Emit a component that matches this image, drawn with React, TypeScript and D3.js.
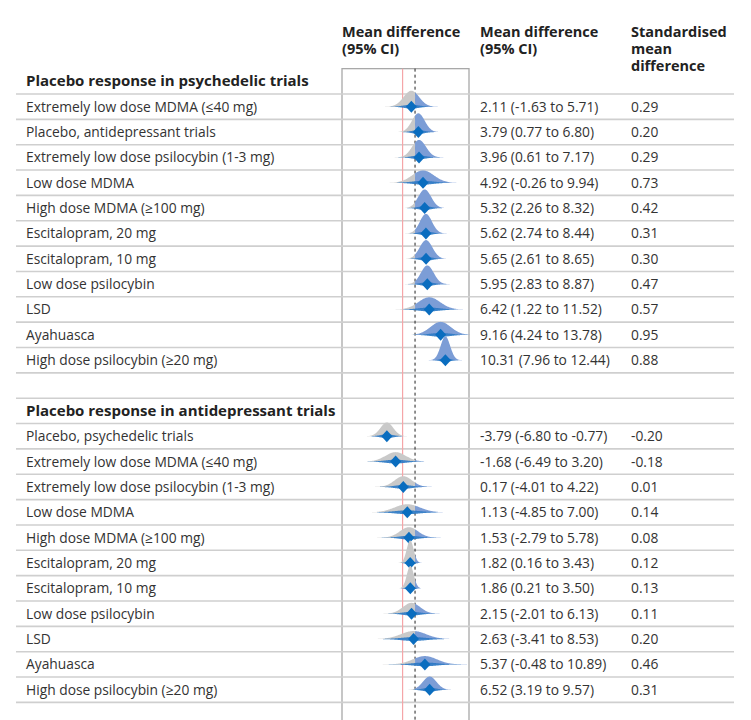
import React from "react";
import * as d3 from "d3";

// ---------- data ----------
const groupTitles = ["Placebo response in psychedelic trials", "Placebo response in antidepressant trials"];
const plotHeader = ["Mean difference", "(95% CI)"];
const mdHeader = ["Mean difference", "(95% CI)"];
const smdHeader = ["Standardised", "mean", "difference"];

const psyLabels = [
  "Extremely low dose MDMA (≤40 mg)",
  "Placebo, antidepressant trials",
  "Extremely low dose psilocybin (1-3 mg)",
  "Low dose MDMA",
  "High dose MDMA (≥100 mg)",
  "Escitalopram, 20 mg",
  "Escitalopram, 10 mg",
  "Low dose psilocybin",
  "LSD",
  "Ayahuasca",
  "High dose psilocybin (≥20 mg)",
];
const psyMean = [2.11, 3.79, 3.96, 4.92, 5.32, 5.62, 5.65, 5.95, 6.42, 9.16, 10.31];
const psyLow = [-1.63, 0.77, 0.61, -0.26, 2.26, 2.74, 2.61, 2.83, 1.22, 4.24, 7.96];
const psyHigh = [5.71, 6.8, 7.17, 9.94, 8.32, 8.44, 8.65, 8.87, 11.52, 13.78, 12.44];
const psySmd = ["0.29", "0.20", "0.29", "0.73", "0.42", "0.31", "0.30", "0.47", "0.57", "0.95", "0.88"];

const adLabels = [
  "Placebo, psychedelic trials",
  "Extremely low dose MDMA (≤40 mg)",
  "Extremely low dose psilocybin (1-3 mg)",
  "Low dose MDMA",
  "High dose MDMA (≥100 mg)",
  "Escitalopram, 20 mg",
  "Escitalopram, 10 mg",
  "Low dose psilocybin",
  "LSD",
  "Ayahuasca",
  "High dose psilocybin (≥20 mg)",
];
const adMean = [-3.79, -1.68, 0.17, 1.13, 1.53, 1.82, 1.86, 2.15, 2.63, 5.37, 6.52];
const adLow = [-6.8, -6.49, -4.01, -4.85, -2.79, 0.16, 0.21, -2.01, -3.41, -0.48, 3.19];
const adHigh = [-0.77, 3.2, 4.22, 7.0, 5.78, 3.43, 3.5, 6.13, 8.53, 10.89, 9.57];
const adSmd = ["-0.20", "-0.18", "0.01", "0.14", "0.08", "0.12", "0.13", "0.11", "0.20", "0.46", "0.31"];

const nullValue = 0;
const thresholdValue = 3;
const domainX = [-14.6, 16.0];

// ---------- layout ----------
const W = 751;
const H = 712;
const FONT = "'Open Sans', Lato, sans-serif";
const rowH = 25.35;
const top0 = 60.65; // top of first group header row (svg coordinates)
const boxL = 334, boxR = 461;
const lineL = 8, lineR = 726;
const colLabel = 18, colMD = 472, colSMD = 623;

const x = d3.scaleLinear().domain(domainX).range([boxL, boxR]);

type Row = { kind: "header" | "item" | "blank"; label?: string; m?: number; lo?: number; hi?: number; smd?: string; group?: number };

function buildRows(): Row[] {
  const rows: Row[] = [];
  rows.push({ kind: "header", label: groupTitles[0] });
  psyLabels.forEach((l, i) => rows.push({ kind: "item", label: l, m: psyMean[i], lo: psyLow[i], hi: psyHigh[i], smd: psySmd[i], group: 0 }));
  rows.push({ kind: "blank" });
  rows.push({ kind: "header", label: groupTitles[1] });
  adLabels.forEach((l, i) => rows.push({ kind: "item", label: l, m: adMean[i], lo: adLow[i], hi: adHigh[i], smd: adSmd[i], group: 1 }));
  return rows;
}

const fmt = (v: number) => v.toFixed(2);

function Shape({ r, cy }: { r: Row; cy: number }) {
  const m = r.m!, lo = r.lo!, hi = r.hi!;
  const sd = (hi - lo) / 3.92;
  const k = r.group === 0 ? 26.4 : 19.5;
  const peak = k / Math.pow(sd, 0.8);
  const n = 160;
  const xs = d3.range(n + 1).map((i) => m - 3.5 * sd + (7 * sd * i) / n);
  const dens = (v: number) => Math.exp(-((v - m) ** 2) / (2 * sd * sd));
  const area = d3
    .area<number>()
    .x((v) => x(v))
    .y0(cy)
    .y1((v) => cy - peak * dens(v));
  const leftPts = xs.filter((v) => v <= thresholdValue);
  const rightPts = xs.filter((v) => v >= thresholdValue);
  if (leftPts.length && leftPts[leftPts.length - 1] < thresholdValue && rightPts.length) leftPts.push(thresholdValue);
  if (rightPts.length && rightPts[0] > thresholdValue && leftPts.length) rightPts.unshift(thresholdValue);
  const lens = d3
    .area<number>()
    .x((v) => x(v))
    .y0((v) => cy + 1.9 * dens(v))
    .y1((v) => cy - 1.9 * dens(v));
  const lensPts = d3.range(n + 1).map((i) => m - 3 * sd + (6 * sd * i) / n);
  const dx = 5.5, dy = 6;
  const cx = x(m);
  return (
    <g>
      {leftPts.length > 1 && <path d={area(leftPts) || ""} fill="#c9c9c9" />}
      {rightPts.length > 1 && <path d={area(rightPts) || ""} fill="#7c9dd6" />}
      <path d={lens(lensPts) || ""} fill="#2a78c4" opacity={0.9} />
      <path d={`M${cx - dx},${cy} L${cx},${cy - dy} L${cx + dx},${cy} L${cx},${cy + dy} Z`} fill="#0a6dbf" />
    </g>
  );
}

function MultiLine({ x0, lines, style }: { x0: number; lines: string[]; style: React.CSSProperties }) {
  return (
    <text x={x0} y={29} style={style}>
      {lines.map((l, i) => (
        <tspan key={i} x={x0} dy={i === 0 ? 0 : 17}>{l}</tspan>
      ))}
    </text>
  );
}

export default function App() {
  const rows = buildRows();
  const rowTop = (i: number) => top0 + rowH * i;
  const textStyle = { fontFamily: FONT, fontSize: 13.8, fill: "#333" } as const;
  const boldStyle = { fontFamily: FONT, fontSize: 14.5, fill: "#222", fontWeight: 700 } as const;
  const groupStyle = { ...boldStyle, fontSize: 15 } as const;
  return (
    <svg width={W} height={H} style={{ display: "block" }}>
      {/* column headers */}
      <MultiLine x0={boxL} lines={plotHeader} style={boldStyle} />
      <MultiLine x0={colMD} lines={mdHeader} style={boldStyle} />
      <MultiLine x0={colSMD} lines={smdHeader} style={boldStyle} />

      {/* box */}
      <rect x={boxL} y={top0} width={boxR - boxL} height={H - top0 + 20} fill="white" stroke="#a8a8a8" strokeWidth={1.3} />

      {/* row separator lines */}
      {rows.map((r, i) => (
        <line key={"l" + i} x1={lineL} x2={lineR} y1={rowTop(i + 1)} y2={rowTop(i + 1)} stroke="#cfcfcf" strokeWidth={1.6} />
      ))}

      {/* reference lines */}
      <line x1={x(nullValue)} x2={x(nullValue)} y1={top0} y2={H} stroke="#f5a5a8" strokeWidth={1.2} />
      <line x1={x(thresholdValue)} x2={x(thresholdValue)} y1={top0} y2={H} stroke="#222" strokeWidth={1} strokeDasharray="3,3" />

      {/* shapes */}
      {rows.map((r, i) => (r.kind === "item" ? <Shape key={"s" + i} r={r} cy={rowTop(i) + rowH / 2} /> : null))}

      {/* texts */}
      {rows.map((r, i) => {
        const cy = rowTop(i) + rowH / 2;
        if (r.kind === "header")
          return (
            <text key={"t" + i} x={colLabel} y={cy + 5} style={groupStyle}>{r.label}</text>
          );
        if (r.kind === "item")
          return (
            <g key={"t" + i}>
              <text x={colLabel} y={cy + 5} style={textStyle}>{r.label}</text>
              <text x={colMD} y={cy + 5} style={textStyle}>{`${fmt(r.m!)} (${fmt(r.lo!)} to ${fmt(r.hi!)})`}</text>
              <text x={colSMD} y={cy + 5} style={textStyle}>{r.smd}</text>
            </g>
          );
        return null;
      })}
    </svg>
  );
}
